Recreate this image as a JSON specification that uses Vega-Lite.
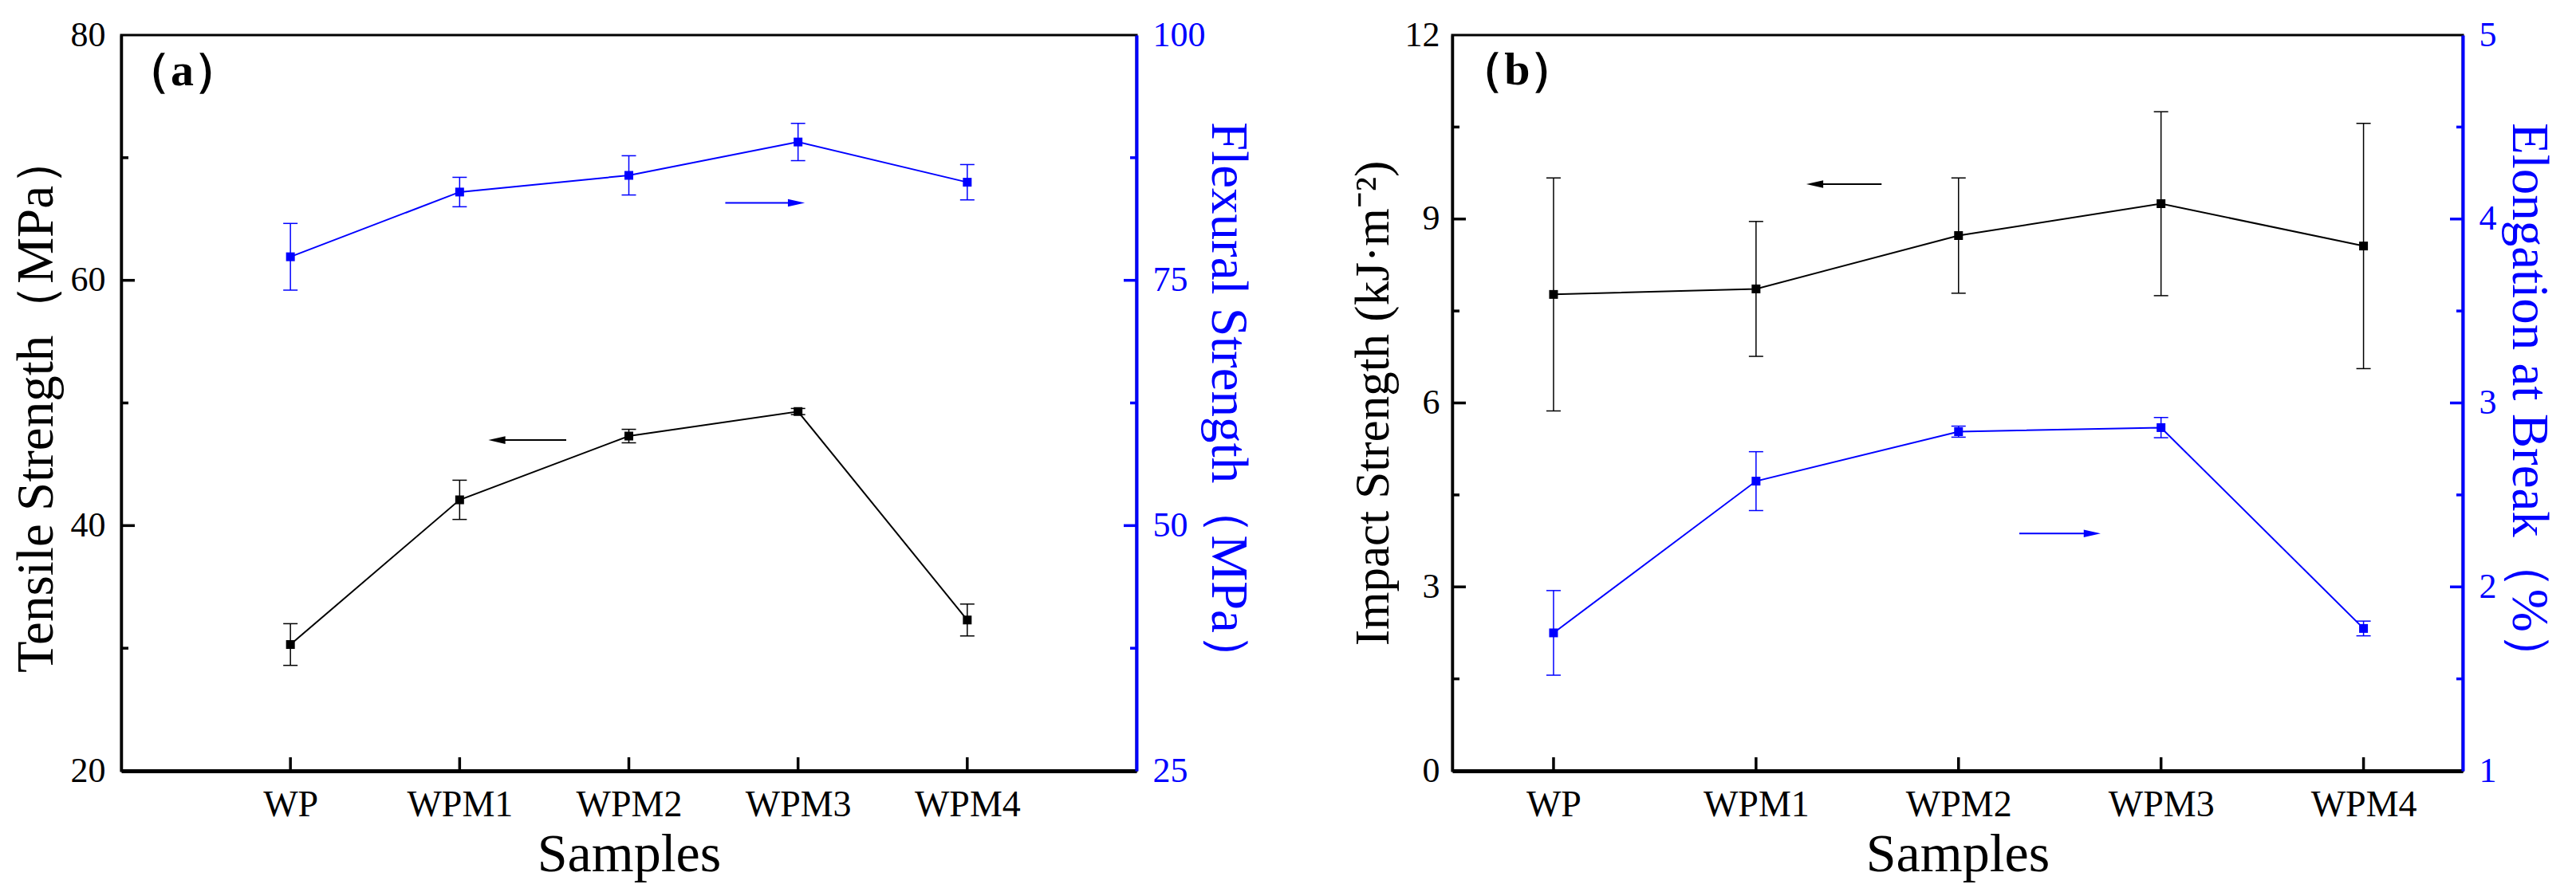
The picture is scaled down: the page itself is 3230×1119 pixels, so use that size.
{
  "$schema": "https://vega.github.io/schema/vega-lite/v6.json",
  "autosize": {"type": "none"},
  "padding": {"left": 152, "top": 44, "right": 3078, "bottom": 1075},
  "datasets": {
    "panelA": [
      {"sample": "WP", "pos": 1, "tensile": 30.3, "tensile_sd": 1.7, "flexural": 77.4, "flexural_sd": 3.4},
      {"sample": "WPM1", "pos": 2, "tensile": 42.1, "tensile_sd": 1.6, "flexural": 84.0, "flexural_sd": 1.5},
      {"sample": "WPM2", "pos": 3, "tensile": 47.3, "tensile_sd": 0.55, "flexural": 85.7, "flexural_sd": 2.0},
      {"sample": "WPM3", "pos": 4, "tensile": 49.3, "tensile_sd": 0.25, "flexural": 89.1, "flexural_sd": 1.9},
      {"sample": "WPM4", "pos": 5, "tensile": 32.3, "tensile_sd": 1.3, "flexural": 85.0, "flexural_sd": 1.8}
    ],
    "panelB": [
      {"sample": "WP", "pos": 1, "impact": 7.77, "impact_sd": 1.9, "elongation": 1.75, "elongation_sd": 0.23},
      {"sample": "WPM1", "pos": 2, "impact": 7.86, "impact_sd": 1.1, "elongation": 2.575, "elongation_sd": 0.16},
      {"sample": "WPM2", "pos": 3, "impact": 8.73, "impact_sd": 0.94, "elongation": 2.844, "elongation_sd": 0.03},
      {"sample": "WPM3", "pos": 4, "impact": 9.25, "impact_sd": 1.5, "elongation": 2.866, "elongation_sd": 0.055},
      {"sample": "WPM4", "pos": 5, "impact": 8.56, "impact_sd": 2.0, "elongation": 1.774, "elongation_sd": 0.04}
    ],
    "arrows": [
      {"panel": "a", "side": "left", "tail": 2.63, "head": 2.22, "level": 46.97},
      {"panel": "a", "side": "right", "tail": 3.57, "head": 3.99, "level": 82.9},
      {"panel": "b", "side": "left", "tail": 2.62, "head": 2.29, "level": 9.57},
      {"panel": "b", "side": "right", "tail": 3.3, "head": 3.66, "level": 2.29}
    ],
    "tags": [
      {"panel": "a", "label": "（a）", "pos": 0.36, "level": 77},
      {"panel": "b", "label": "（b）", "pos": 0.82, "level": 11.41}
    ],
    "yticks": [
      {"panel": "a", "side": "left", "value": 30, "major": false},
      {"panel": "a", "side": "left", "value": 40, "major": true},
      {"panel": "a", "side": "left", "value": 50, "major": false},
      {"panel": "a", "side": "left", "value": 60, "major": true},
      {"panel": "a", "side": "left", "value": 70, "major": false},
      {"panel": "a", "side": "right", "value": 37.5, "major": false},
      {"panel": "a", "side": "right", "value": 50, "major": true},
      {"panel": "a", "side": "right", "value": 62.5, "major": false},
      {"panel": "a", "side": "right", "value": 75, "major": true},
      {"panel": "a", "side": "right", "value": 87.5, "major": false},
      {"panel": "b", "side": "left", "value": 1.5, "major": false},
      {"panel": "b", "side": "left", "value": 3, "major": true},
      {"panel": "b", "side": "left", "value": 4.5, "major": false},
      {"panel": "b", "side": "left", "value": 6, "major": true},
      {"panel": "b", "side": "left", "value": 7.5, "major": false},
      {"panel": "b", "side": "left", "value": 9, "major": true},
      {"panel": "b", "side": "left", "value": 10.5, "major": false},
      {"panel": "b", "side": "right", "value": 1.5, "major": false},
      {"panel": "b", "side": "right", "value": 2, "major": true},
      {"panel": "b", "side": "right", "value": 2.5, "major": false},
      {"panel": "b", "side": "right", "value": 3, "major": true},
      {"panel": "b", "side": "right", "value": 3.5, "major": false},
      {"panel": "b", "side": "right", "value": 4, "major": true},
      {"panel": "b", "side": "right", "value": 4.5, "major": false}
    ]
  },
  "spacing": 396,
  "bounds": "flush",
  "hconcat": [
    {
      "width": 1273,
      "height": 923,
      "data": {"name": "panelA"},
      "layer": [
        {
          "layer": [
            {
              "mark": {"type": "line", "color": "black", "strokeWidth": 2},
              "encoding": {
                "x": {
                  "field": "pos", "type": "quantitative", "title": "Samples",
                  "scale": {"domain": [0, 6], "nice": false},
                  "axis": {
                    "values": [1, 2, 3, 4, 5],
                    "labelExpr": "['WP','WPM1','WPM2','WPM3','WPM4'][datum.value - 1]",
                    "labelPadding": 20, "domainWidth": 5,
                    "labelFontSize": 46, "titlePadding": 6, "titleFontSize": 68
                  }
                },
                "y": {
                  "field": "tensile", "type": "quantitative", "title": "Tensile Strength（MPa）",
                  "scale": {"domain": [20, 80], "nice": false},
                  "axis": {"orient": "left", "values": [20, 40, 60, 80], "labelPadding": 20, "titlePadding": 9}
                }
              }
            },
            {
              "mark": {"type": "errorbar", "color": "black", "thickness": 1.5, "ticks": {"size": 18, "opacity": 1}},
              "encoding": {
                "x": {"field": "pos", "type": "quantitative", "title": "Samples", "scale": {"domain": [0, 6], "nice": false}},
                "y": {"field": "tensile", "type": "quantitative", "title": "Tensile Strength（MPa）", "scale": {"domain": [20, 80], "nice": false}},
                "yError": {"field": "tensile_sd"}
              }
            },
            {
              "mark": {"type": "point", "shape": "square", "filled": true, "size": 121, "color": "black", "opacity": 1},
              "encoding": {
                "x": {"field": "pos", "type": "quantitative", "title": "Samples", "scale": {"domain": [0, 6], "nice": false}},
                "y": {"field": "tensile", "type": "quantitative", "title": "Tensile Strength（MPa）", "scale": {"domain": [20, 80], "nice": false}}
              }
            },
            {
              "mark": {"type": "tick", "orient": "vertical", "size": 17, "thickness": 3.5, "yOffset": -8.5, "color": "black", "opacity": 1},
              "encoding": {
                "x": {"field": "pos", "type": "quantitative", "title": "Samples", "scale": {"domain": [0, 6], "nice": false}},
                "y": {"datum": 20, "type": "quantitative", "scale": {"domain": [20, 80], "nice": false}}
              }
            },
            {
              "data": {"name": "yticks"},
              "transform": [{"filter": "datum.panel === 'a' && datum.side === 'left' && datum.major"}],
              "mark": {"type": "tick", "orient": "horizontal", "size": 17, "thickness": 3.5, "xOffset": 8.5, "color": "black", "opacity": 1},
              "encoding": {
                "x": {"datum": 0, "type": "quantitative", "scale": {"domain": [0, 6], "nice": false}},
                "y": {"field": "value", "type": "quantitative", "title": "Tensile Strength（MPa）", "scale": {"domain": [20, 80], "nice": false}}
              }
            },
            {
              "data": {"name": "yticks"},
              "transform": [{"filter": "datum.panel === 'a' && datum.side === 'left' && !datum.major"}],
              "mark": {"type": "tick", "orient": "horizontal", "size": 9, "thickness": 3.5, "xOffset": 4.5, "color": "black", "opacity": 1},
              "encoding": {
                "x": {"datum": 0, "type": "quantitative", "scale": {"domain": [0, 6], "nice": false}},
                "y": {"field": "value", "type": "quantitative", "title": "Tensile Strength（MPa）", "scale": {"domain": [20, 80], "nice": false}}
              }
            },
            {
              "data": {"name": "arrows"},
              "transform": [{"filter": "datum.panel === 'a' && datum.side === 'left'"}],
              "mark": {"type": "rule", "color": "black", "strokeWidth": 2},
              "encoding": {
                "x": {"field": "tail", "type": "quantitative", "title": "Samples", "scale": {"domain": [0, 6], "nice": false}},
                "x2": {"field": "head"},
                "y": {"field": "level", "type": "quantitative", "title": "Tensile Strength（MPa）", "scale": {"domain": [20, 80], "nice": false}}
              }
            },
            {
              "data": {"name": "arrows"},
              "transform": [{"filter": "datum.panel === 'a' && datum.side === 'left'"}],
              "mark": {"type": "point", "shape": "M -1 0 L 1 -0.45 L 1 0.45 Z", "filled": true, "size": 450, "color": "black", "opacity": 1},
              "encoding": {
                "x": {"field": "head", "type": "quantitative", "title": "Samples", "scale": {"domain": [0, 6], "nice": false}},
                "y": {"field": "level", "type": "quantitative", "title": "Tensile Strength（MPa）", "scale": {"domain": [20, 80], "nice": false}}
              }
            },
            {
              "data": {"name": "tags"},
              "transform": [{"filter": "datum.panel === 'a'"}],
              "mark": {"type": "text", "font": "Liberation Serif", "fontWeight": "bold", "fontSize": 58, "align": "center", "baseline": "middle", "color": "black"},
              "encoding": {
                "x": {"field": "pos", "type": "quantitative", "title": "Samples", "scale": {"domain": [0, 6], "nice": false}},
                "y": {"field": "level", "type": "quantitative", "title": "Tensile Strength（MPa）", "scale": {"domain": [20, 80], "nice": false}},
                "text": {"field": "label"}
              }
            }
          ]
        },
        {
          "layer": [
            {
              "mark": {"type": "line", "color": "#0000ff", "strokeWidth": 2},
              "encoding": {
                "x": {"field": "pos", "type": "quantitative", "title": "Samples", "scale": {"domain": [0, 6], "nice": false}},
                "y": {
                  "field": "flexural", "type": "quantitative", "title": "Flexural Strength（MPa）",
                  "scale": {"domain": [25, 100], "nice": false},
                  "axis": {
                    "orient": "right", "values": [25, 50, 75, 100],
                    "labelPadding": 20, "titlePadding": -6,
                    "domainColor": "#0000ff", "labelColor": "#0000ff", "titleColor": "#0000ff",
                    "domainWidth": 4
                  }
                }
              }
            },
            {
              "mark": {"type": "errorbar", "color": "#0000ff", "thickness": 1.5, "ticks": {"size": 18, "opacity": 1}},
              "encoding": {
                "x": {"field": "pos", "type": "quantitative", "title": "Samples", "scale": {"domain": [0, 6], "nice": false}},
                "y": {"field": "flexural", "type": "quantitative", "title": "Flexural Strength（MPa）", "scale": {"domain": [25, 100], "nice": false}},
                "yError": {"field": "flexural_sd"}
              }
            },
            {
              "mark": {"type": "point", "shape": "square", "filled": true, "size": 121, "color": "#0000ff", "opacity": 1},
              "encoding": {
                "x": {"field": "pos", "type": "quantitative", "title": "Samples", "scale": {"domain": [0, 6], "nice": false}},
                "y": {"field": "flexural", "type": "quantitative", "title": "Flexural Strength（MPa）", "scale": {"domain": [25, 100], "nice": false}}
              }
            },
            {
              "data": {"name": "yticks"},
              "transform": [{"filter": "datum.panel === 'a' && datum.side === 'right' && datum.major"}],
              "mark": {"type": "tick", "orient": "horizontal", "size": 16, "thickness": 3.5, "xOffset": -8, "color": "#0000ff", "opacity": 1},
              "encoding": {
                "x": {"datum": 6, "type": "quantitative", "scale": {"domain": [0, 6], "nice": false}},
                "y": {"field": "value", "type": "quantitative", "title": "Flexural Strength（MPa）", "scale": {"domain": [25, 100], "nice": false}}
              }
            },
            {
              "data": {"name": "yticks"},
              "transform": [{"filter": "datum.panel === 'a' && datum.side === 'right' && !datum.major"}],
              "mark": {"type": "tick", "orient": "horizontal", "size": 8, "thickness": 3.5, "xOffset": -4, "color": "#0000ff", "opacity": 1},
              "encoding": {
                "x": {"datum": 6, "type": "quantitative", "scale": {"domain": [0, 6], "nice": false}},
                "y": {"field": "value", "type": "quantitative", "title": "Flexural Strength（MPa）", "scale": {"domain": [25, 100], "nice": false}}
              }
            },
            {
              "data": {"name": "arrows"},
              "transform": [{"filter": "datum.panel === 'a' && datum.side === 'right'"}],
              "mark": {"type": "rule", "color": "#0000ff", "strokeWidth": 2},
              "encoding": {
                "x": {"field": "tail", "type": "quantitative", "title": "Samples", "scale": {"domain": [0, 6], "nice": false}},
                "x2": {"field": "head"},
                "y": {"field": "level", "type": "quantitative", "title": "Flexural Strength（MPa）", "scale": {"domain": [25, 100], "nice": false}}
              }
            },
            {
              "data": {"name": "arrows"},
              "transform": [{"filter": "datum.panel === 'a' && datum.side === 'right'"}],
              "mark": {"type": "point", "shape": "M 1 0 L -1 -0.45 L -1 0.45 Z", "filled": true, "size": 450, "color": "#0000ff", "opacity": 1},
              "encoding": {
                "x": {"field": "head", "type": "quantitative", "title": "Samples", "scale": {"domain": [0, 6], "nice": false}},
                "y": {"field": "level", "type": "quantitative", "title": "Flexural Strength（MPa）", "scale": {"domain": [25, 100], "nice": false}}
              }
            }
          ]
        }
      ],
      "resolve": {"scale": {"y": "independent"}}
    },
    {
      "width": 1267,
      "height": 923,
      "data": {"name": "panelB"},
      "layer": [
        {
          "layer": [
            {
              "mark": {"type": "line", "color": "black", "strokeWidth": 2},
              "encoding": {
                "x": {
                  "field": "pos", "type": "quantitative", "title": "Samples",
                  "scale": {"domain": [0.5, 5.49], "nice": false},
                  "axis": {
                    "values": [1, 2, 3, 4, 5],
                    "labelExpr": "['WP','WPM1','WPM2','WPM3','WPM4'][datum.value - 1]",
                    "labelPadding": 20, "domainWidth": 5,
                    "labelFontSize": 46, "titlePadding": 6, "titleFontSize": 68
                  }
                },
                "y": {
                  "field": "impact", "type": "quantitative", "title": "Impact Strength (kJ·m⁻²)",
                  "scale": {"domain": [0, 12], "nice": false},
                  "axis": {"orient": "left", "format": "d", "values": [0, 3, 6, 9, 12], "labelPadding": 16, "titlePadding": 8, "titleFontSize": 61}
                }
              }
            },
            {
              "mark": {"type": "errorbar", "color": "black", "thickness": 1.5, "ticks": {"size": 18, "opacity": 1}},
              "encoding": {
                "x": {"field": "pos", "type": "quantitative", "title": "Samples", "scale": {"domain": [0.5, 5.49], "nice": false}},
                "y": {"field": "impact", "type": "quantitative", "title": "Impact Strength (kJ·m⁻²)", "scale": {"domain": [0, 12], "nice": false}},
                "yError": {"field": "impact_sd"}
              }
            },
            {
              "mark": {"type": "point", "shape": "square", "filled": true, "size": 121, "color": "black", "opacity": 1},
              "encoding": {
                "x": {"field": "pos", "type": "quantitative", "title": "Samples", "scale": {"domain": [0.5, 5.49], "nice": false}},
                "y": {"field": "impact", "type": "quantitative", "title": "Impact Strength (kJ·m⁻²)", "scale": {"domain": [0, 12], "nice": false}}
              }
            },
            {
              "mark": {"type": "tick", "orient": "vertical", "size": 17, "thickness": 3.5, "yOffset": -8.5, "color": "black", "opacity": 1},
              "encoding": {
                "x": {"field": "pos", "type": "quantitative", "title": "Samples", "scale": {"domain": [0.5, 5.49], "nice": false}},
                "y": {"datum": 0, "type": "quantitative", "scale": {"domain": [0, 12], "nice": false}}
              }
            },
            {
              "data": {"name": "yticks"},
              "transform": [{"filter": "datum.panel === 'b' && datum.side === 'left' && datum.major"}],
              "mark": {"type": "tick", "orient": "horizontal", "size": 17, "thickness": 3.5, "xOffset": 8.5, "color": "black", "opacity": 1},
              "encoding": {
                "x": {"datum": 0.5, "type": "quantitative", "scale": {"domain": [0.5, 5.49], "nice": false}},
                "y": {"field": "value", "type": "quantitative", "title": "Impact Strength (kJ·m⁻²)", "scale": {"domain": [0, 12], "nice": false}}
              }
            },
            {
              "data": {"name": "yticks"},
              "transform": [{"filter": "datum.panel === 'b' && datum.side === 'left' && !datum.major"}],
              "mark": {"type": "tick", "orient": "horizontal", "size": 9, "thickness": 3.5, "xOffset": 4.5, "color": "black", "opacity": 1},
              "encoding": {
                "x": {"datum": 0.5, "type": "quantitative", "scale": {"domain": [0.5, 5.49], "nice": false}},
                "y": {"field": "value", "type": "quantitative", "title": "Impact Strength (kJ·m⁻²)", "scale": {"domain": [0, 12], "nice": false}}
              }
            },
            {
              "data": {"name": "arrows"},
              "transform": [{"filter": "datum.panel === 'b' && datum.side === 'left'"}],
              "mark": {"type": "rule", "color": "black", "strokeWidth": 2},
              "encoding": {
                "x": {"field": "tail", "type": "quantitative", "title": "Samples", "scale": {"domain": [0.5, 5.49], "nice": false}},
                "x2": {"field": "head"},
                "y": {"field": "level", "type": "quantitative", "title": "Impact Strength (kJ·m⁻²)", "scale": {"domain": [0, 12], "nice": false}}
              }
            },
            {
              "data": {"name": "arrows"},
              "transform": [{"filter": "datum.panel === 'b' && datum.side === 'left'"}],
              "mark": {"type": "point", "shape": "M -1 0 L 1 -0.45 L 1 0.45 Z", "filled": true, "size": 450, "color": "black", "opacity": 1},
              "encoding": {
                "x": {"field": "head", "type": "quantitative", "title": "Samples", "scale": {"domain": [0.5, 5.49], "nice": false}},
                "y": {"field": "level", "type": "quantitative", "title": "Impact Strength (kJ·m⁻²)", "scale": {"domain": [0, 12], "nice": false}}
              }
            },
            {
              "data": {"name": "tags"},
              "transform": [{"filter": "datum.panel === 'b'"}],
              "mark": {"type": "text", "font": "Liberation Serif", "fontWeight": "bold", "fontSize": 58, "align": "center", "baseline": "middle", "color": "black"},
              "encoding": {
                "x": {"field": "pos", "type": "quantitative", "title": "Samples", "scale": {"domain": [0.5, 5.49], "nice": false}},
                "y": {"field": "level", "type": "quantitative", "title": "Impact Strength (kJ·m⁻²)", "scale": {"domain": [0, 12], "nice": false}},
                "text": {"field": "label"}
              }
            }
          ]
        },
        {
          "layer": [
            {
              "mark": {"type": "line", "color": "#0000ff", "strokeWidth": 2},
              "encoding": {
                "x": {"field": "pos", "type": "quantitative", "title": "Samples", "scale": {"domain": [0.5, 5.49], "nice": false}},
                "y": {
                  "field": "elongation", "type": "quantitative", "title": "Elongation at Break（%）",
                  "scale": {"domain": [1, 5], "nice": false},
                  "axis": {
                    "orient": "right", "format": "d", "values": [1, 2, 3, 4, 5],
                    "labelPadding": 20, "titlePadding": 6,
                    "domainColor": "#0000ff", "labelColor": "#0000ff", "titleColor": "#0000ff",
                    "domainWidth": 4
                  }
                }
              }
            },
            {
              "mark": {"type": "errorbar", "color": "#0000ff", "thickness": 1.5, "ticks": {"size": 18, "opacity": 1}},
              "encoding": {
                "x": {"field": "pos", "type": "quantitative", "title": "Samples", "scale": {"domain": [0.5, 5.49], "nice": false}},
                "y": {"field": "elongation", "type": "quantitative", "title": "Elongation at Break（%）", "scale": {"domain": [1, 5], "nice": false}},
                "yError": {"field": "elongation_sd"}
              }
            },
            {
              "mark": {"type": "point", "shape": "square", "filled": true, "size": 121, "color": "#0000ff", "opacity": 1},
              "encoding": {
                "x": {"field": "pos", "type": "quantitative", "title": "Samples", "scale": {"domain": [0.5, 5.49], "nice": false}},
                "y": {"field": "elongation", "type": "quantitative", "title": "Elongation at Break（%）", "scale": {"domain": [1, 5], "nice": false}}
              }
            },
            {
              "data": {"name": "yticks"},
              "transform": [{"filter": "datum.panel === 'b' && datum.side === 'right' && datum.major"}],
              "mark": {"type": "tick", "orient": "horizontal", "size": 16, "thickness": 3.5, "xOffset": -8, "color": "#0000ff", "opacity": 1},
              "encoding": {
                "x": {"datum": 5.49, "type": "quantitative", "scale": {"domain": [0.5, 5.49], "nice": false}},
                "y": {"field": "value", "type": "quantitative", "title": "Elongation at Break（%）", "scale": {"domain": [1, 5], "nice": false}}
              }
            },
            {
              "data": {"name": "yticks"},
              "transform": [{"filter": "datum.panel === 'b' && datum.side === 'right' && !datum.major"}],
              "mark": {"type": "tick", "orient": "horizontal", "size": 8, "thickness": 3.5, "xOffset": -4, "color": "#0000ff", "opacity": 1},
              "encoding": {
                "x": {"datum": 5.49, "type": "quantitative", "scale": {"domain": [0.5, 5.49], "nice": false}},
                "y": {"field": "value", "type": "quantitative", "title": "Elongation at Break（%）", "scale": {"domain": [1, 5], "nice": false}}
              }
            },
            {
              "data": {"name": "arrows"},
              "transform": [{"filter": "datum.panel === 'b' && datum.side === 'right'"}],
              "mark": {"type": "rule", "color": "#0000ff", "strokeWidth": 2},
              "encoding": {
                "x": {"field": "tail", "type": "quantitative", "title": "Samples", "scale": {"domain": [0.5, 5.49], "nice": false}},
                "x2": {"field": "head"},
                "y": {"field": "level", "type": "quantitative", "title": "Elongation at Break（%）", "scale": {"domain": [1, 5], "nice": false}}
              }
            },
            {
              "data": {"name": "arrows"},
              "transform": [{"filter": "datum.panel === 'b' && datum.side === 'right'"}],
              "mark": {"type": "point", "shape": "M 1 0 L -1 -0.45 L -1 0.45 Z", "filled": true, "size": 450, "color": "#0000ff", "opacity": 1},
              "encoding": {
                "x": {"field": "head", "type": "quantitative", "title": "Samples", "scale": {"domain": [0.5, 5.49], "nice": false}},
                "y": {"field": "level", "type": "quantitative", "title": "Elongation at Break（%）", "scale": {"domain": [1, 5], "nice": false}}
              }
            }
          ]
        }
      ],
      "resolve": {"scale": {"y": "independent"}}
    }
  ],
  "config": {
    "font": "Liberation Serif",
    "view": {"stroke": "black", "strokeWidth": 3},
    "axis": {
      "grid": false,
      "ticks": false,
      "zindex": 1,
      "labelFont": "Liberation Serif",
      "labelFontSize": 44,
      "labelColor": "black",
      "labelFlush": false,
      "labelOverlap": false,
      "titleFont": "Liberation Serif",
      "titleFontSize": 65,
      "titleFontWeight": "normal",
      "titleColor": "black",
      "domainColor": "black",
      "domainWidth": 3.5
    }
  }
}
